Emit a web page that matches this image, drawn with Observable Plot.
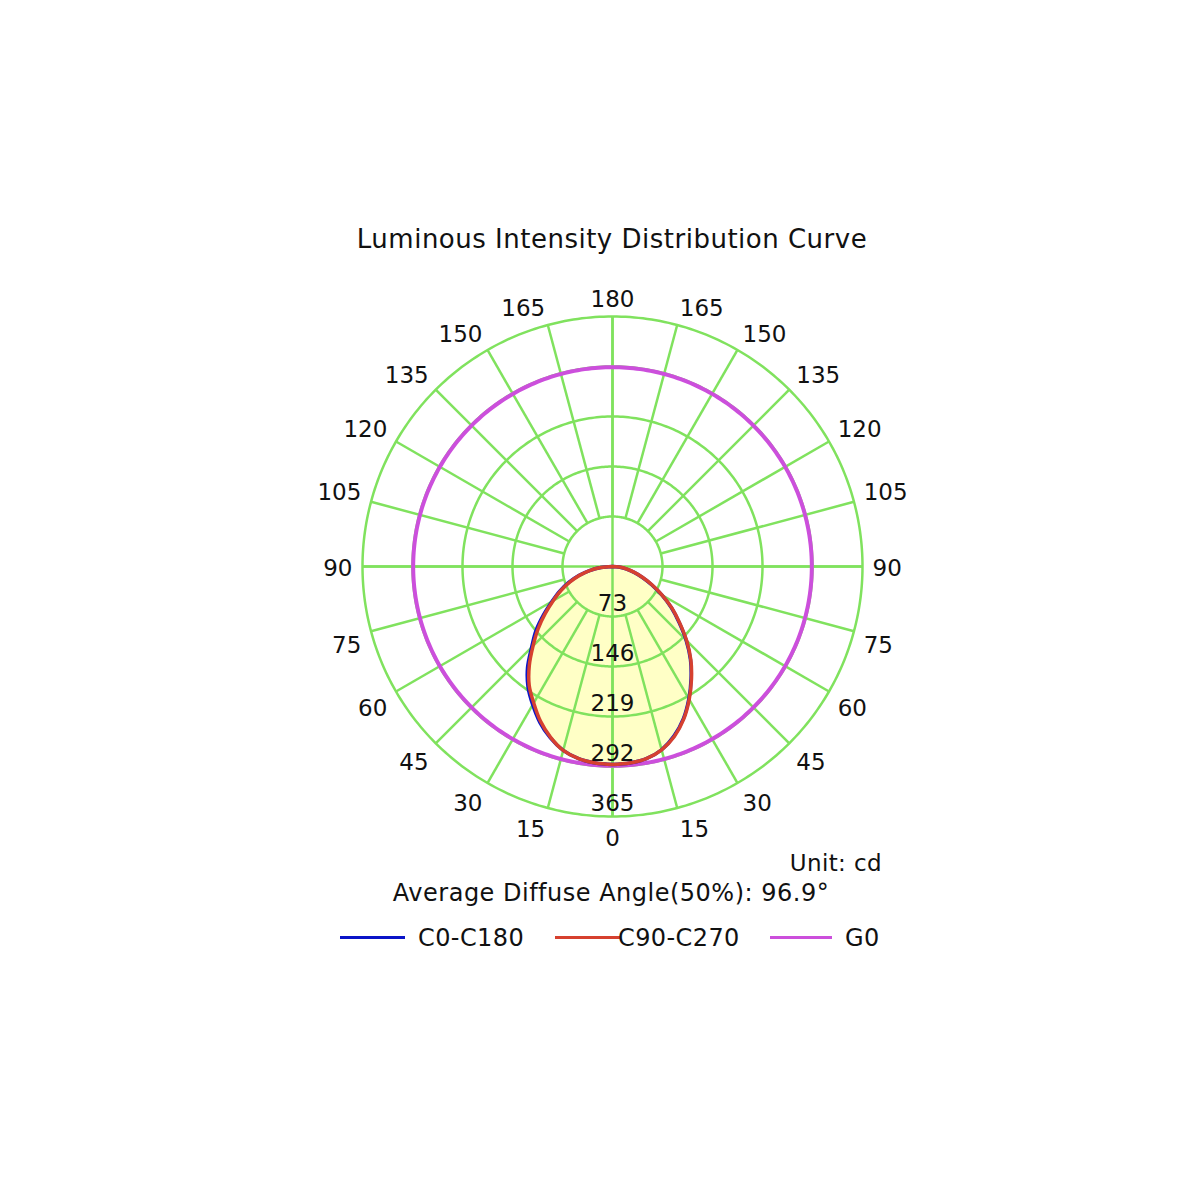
<!DOCTYPE html>
<html><head><meta charset="utf-8">
<script src="https://cdn.jsdelivr.net/npm/d3@7"></script>
<script src="https://cdn.jsdelivr.net/npm/@observablehq/plot@0.6"></script>
<style>
body{margin:0;background:#fff;font-family:"DejaVu Sans",Verdana,sans-serif;}
#wrap{position:relative;width:1200px;height:1200px;overflow:hidden;}
#wrap svg{position:absolute;left:0;top:0;}
.t{position:absolute;white-space:nowrap;color:#111;line-height:1;}
.sw{position:absolute;height:0;border-top-style:solid;border-top-width:3.5px;}
</style></head><body><div id="wrap"></div>
<script>
// gamma angles (deg from nadir) for the C-plane curves
const gammaDeg = [0,5,10,15,20,25,30,35,40,45,50,55,60,65,70,75,80,85,90];
// intensities (cd)
const c0   = [289,288,285,277,263,245,223,200,177,152,127,105,83,63,46,32,20,9,0];    // C0 (right half, blue)
const c180 = [289,288,285,278,266,251,233,215,193,167,146,123,102,85,68,51,34,17,0];  // C180 (left half, blue)
const c90  = [289,288,285,277,264,246,224,201,178,153,128,106,84,64,47,33,21,10,0];   // C90 (right half, red)
const c270 = [289,288,285,278,265,249,230,212,189,164,142,120,100,83,66,50,34,17,0];  // C270 (left half, red)
// G0 curve
const g0Angles = [0,15,30,45,60,75,90,105,120,135,150,165,180,195,210,225,240,255,270,285,300,315,330,345,360];
const g0Values = [291,291,291,291,291,291,291,291,291,291,291,291,291,291,291,291,291,291,291,291,291,291,291,291,291];
// grid
const ringValues = [73,146,219,292,365];
const spokeAngles = [0,15,30,45,60,75,90,105,120,135,150,165,180,195,210,225,240,255,270,285,300,315,330,345];
const angleLabels = [0,15,30,45,60,75,90,105,120,135,150,165,180];
const seriesNames = ["C0-C180","C90-C270","G0"];
const seriesColors = ["#0a14c8","#d6402f","#cc4fdc"];
const titleText = "Luminous Intensity Distribution Curve";
const unitText = "Unit: cd";
const diffuseText = "Average Diffuse Angle(50%): 96.9°";

const RMAX = 365;
const rad = d => d * Math.PI / 180;
const px = (I, phi) => I * Math.sin(rad(phi));
const py = (I, phi) => -I * Math.cos(rad(phi));

function loop(right, left) {
  const pts = [];
  gammaDeg.forEach((g, i) => pts.push({x: px(right[i], g), y: py(right[i], g)}));
  for (let i = gammaDeg.length - 1; i >= 0; i--) pts.push({x: px(left[i], 360 - gammaDeg[i]), y: py(left[i], 360 - gammaDeg[i])});
  return pts;
}
const blueLoop = loop(c0, c180);
const redLoop = loop(c90, c270);
const g0Pts = [];
g0Angles.forEach((a, i) => {
  const next = i < g0Angles.length - 1 ? g0Angles[i + 1] : a + 1;
  for (let t = a; t < next; t += 1) g0Pts.push({x: px(g0Values[i], t), y: py(g0Values[i], t)});
});
const ringPts = ringValues.flatMap(r => d3.range(0, 361, 1).map(t => ({r, x: px(r, t), y: py(r, t)})));
const spokes = spokeAngles.map(a => ({x1: px(ringValues[0], a), y1: py(ringValues[0], a), x2: px(RMAX, a), y2: py(RMAX, a)}));

const LBL_R = RMAX * 260 / 250;
const labelRows = [];
for (const a of angleLabels) {
  const v = a > 90 ? "up" : a < 90 ? "down" : "mid";
  if (a === 0 || a === 180) labelRows.push({text: String(a), x: px(LBL_R, a), y: py(LBL_R, a), anchor: "middle", v});
  else {
    labelRows.push({text: String(a), x: px(LBL_R, a), y: py(LBL_R, a), anchor: "start", v});
    labelRows.push({text: String(a), x: px(LBL_R, 360 - a), y: py(LBL_R, 360 - a), anchor: "end", v});
  }
}
const vdy = {up: -7, mid: 2, down: 12};
const labelMarks = [];
for (const anchor of ["start", "end", "middle"]) for (const v of ["up", "mid", "down"]) {
  const rows = labelRows.filter(d => d.anchor === anchor && d.v === v);
  if (rows.length) labelMarks.push(Plot.text(rows, {x: "x", y: "y", text: "text", textAnchor: anchor, dy: vdy[v], fontSize: 23, fill: "#111"}));
}

const GREEN = "#80e25e";
const chart = Plot.plot({
  width: 1200, height: 1200,
  marginLeft: 362, marginRight: 338, marginTop: 316, marginBottom: 384,
  x: {domain: [-RMAX, RMAX], axis: null},
  y: {domain: [-RMAX, RMAX], axis: null},
  style: {fontFamily: "DejaVu Sans, Verdana, sans-serif", background: "#fff", overflow: "visible"},
  marks: [
    Plot.line(blueLoop, {x: "x", y: "y", fill: "#ffffc6", stroke: "none", curve: "catmull-rom"}),
    Plot.line(ringPts, {x: "x", y: "y", z: "r", stroke: GREEN, strokeWidth: 2.5}),
    Plot.link(spokes, {x1: "x1", y1: "y1", x2: "x2", y2: "y2", stroke: GREEN, strokeWidth: 2.5}),
    Plot.ruleX([0], {stroke: GREEN, strokeWidth: 2.5}),
    Plot.ruleY([0], {stroke: GREEN, strokeWidth: 2.5}),
    Plot.line(g0Pts, {x: "x", y: "y", stroke: seriesColors[2], strokeWidth: 4}),
    Plot.line(blueLoop, {x: "x", y: "y", stroke: seriesColors[0], strokeWidth: 3.5, curve: "catmull-rom"}),
    Plot.line(redLoop, {x: "x", y: "y", stroke: seriesColors[1], strokeWidth: 3.5, curve: "catmull-rom"}),
    Plot.text(ringValues, {x: 0, y: d => -d, text: d => String(d), dy: -13, fontSize: 23, fill: "#111"}),
    ...labelMarks
  ]
});
const wrap = document.getElementById("wrap");
wrap.appendChild(chart);

function addText(txt, left, top, size, align, ls) {
  const el = document.createElement("div");
  el.className = "t";
  el.textContent = txt;
  el.style.fontSize = size + "px";
  el.style.letterSpacing = (ls || 0) + "px";
  el.style.top = top + "px";
  el.style.left = left + "px";
  const tx = align === "center" ? "-50%" : align === "right" ? "-100%" : "0";
  el.style.transform = `translate(${tx},-50%)`;
  wrap.appendChild(el);
}
addText(titleText, 612, 239, 26, "center", 0.5);
addText(unitText, 882, 863, 23, "right", 0.4);
addText(diffuseText, 611, 893, 24, "center", 0.5);
const legendX = [[340, 405, 418], [555, 620, 618], [770, 832, 845]];
seriesNames.forEach((n, i) => {
  const sw = document.createElement("div");
  sw.className = "sw";
  sw.style.left = legendX[i][0] + "px";
  sw.style.width = (legendX[i][1] - legendX[i][0]) + "px";
  sw.style.top = "936px";
  sw.style.borderTopColor = seriesColors[i];
  wrap.appendChild(sw);
  addText(n, legendX[i][2], 938, 24, "left", 0.4);
});
</script></body></html>
